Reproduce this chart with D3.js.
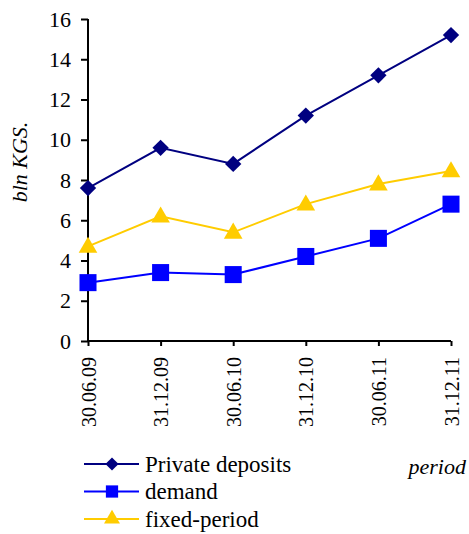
<!DOCTYPE html>
<html>
<head>
<meta charset="utf-8">
<script src="https://cdn.jsdelivr.net/npm/d3@7"></script>
</head>
<body style="margin:0;background:#fff">
<div id="chart"></div>
<script>
// data
var periods = ["30.06.09", "31.12.09", "30.06.10", "31.12.10", "30.06.11", "31.12.11"];
var privateDeposits = [7.6, 9.6, 8.8, 11.2, 13.2, 15.2];
var demand = [2.9, 3.4, 3.3, 4.2, 5.1, 6.8];
var fixedPeriod = [4.7, 6.2, 5.4, 6.8, 7.8, 8.45];
var yTicks = [0, 2, 4, 6, 8, 10, 12, 14, 16];

var series = [
  { name: "Private deposits", values: privateDeposits, color: "#000080", symbol: "diamond" },
  { name: "demand", values: demand, color: "#0000FF", symbol: "square" },
  { name: "fixed-period", values: fixedPeriod, color: "#FFCC00", symbol: "triangle" }
];

var serif = "'Liberation Serif'";
var W = 469, H = 534;
var svg = d3.select("#chart").append("svg")
  .attr("width", W).attr("height", H);

var x = d3.scalePoint().domain(periods).range([88, 451]);
var y = d3.scaleLinear().domain([0, 16]).range([341, 19]);

// Y axis
var yAxis = svg.append("g")
  .attr("transform", "translate(88,0)")
  .call(d3.axisLeft(y).tickValues(yTicks).tickSize(7).tickPadding(10).tickFormat(d3.format("d")));
yAxis.select(".domain").attr("stroke", "#000").attr("stroke-width", 2).attr("d", "M0,19V341");
yAxis.selectAll(".tick line").attr("stroke-width", 2);
yAxis.selectAll("text")
  .style("font-family", serif)
  .style("font-size", "22px")
  .attr("fill", "#000");

// X axis
var xAxis = svg.append("g")
  .attr("transform", "translate(0,341)")
  .call(d3.axisBottom(x).tickSize(5).tickPadding(8));
xAxis.select(".domain").attr("stroke", "#000").attr("stroke-width", 2).attr("d", "M88,0H451");
xAxis.selectAll(".tick line").attr("stroke-width", 2);
xAxis.selectAll("text")
  .style("font-family", serif)
  .style("font-size", "20px")
  .attr("fill", "#000")
  .attr("transform", "rotate(-90)")
  .attr("text-anchor", "end")
  .attr("x", -16)
  .attr("y", 0)
  .attr("dy", "0.35em");

// Axis titles
svg.append("text")
  .attr("transform", "translate(27,162) rotate(-90)")
  .attr("text-anchor", "middle")
  .style("font-family", serif)
  .style("font-size", "22px")
  .style("font-style", "italic")
  .text("bln KGS.");

svg.append("text")
  .attr("x", 466).attr("y", 474)
  .attr("text-anchor", "end")
  .style("font-family", serif)
  .style("font-size", "22px")
  .style("font-style", "italic")
  .text("period");

function marker(type, big) {
  if (type === "diamond") return d3.symbol().type(d3.symbolDiamond2).size(big ? 170 : 110)();
  if (type === "square") return d3.symbol().type(d3.symbolSquare).size(big ? 290 : 150)();
  return d3.symbol().type(d3.symbolTriangle).size(big ? 150 : 110)();
}

var line = d3.line()
  .x(function (d, i) { return x(periods[i]); })
  .y(function (d) { return y(d); });

// Lines and markers
series.forEach(function (s) {
  svg.append("path")
    .datum(s.values)
    .attr("d", line)
    .attr("fill", "none")
    .attr("stroke", s.color)
    .attr("stroke-width", 2);

  svg.selectAll(null)
    .data(s.values)
    .enter()
    .append("path")
    .attr("d", marker(s.symbol, true))
    .attr("transform", function (d, i) {
      return "translate(" + x(periods[i]) + "," + (y(d) + (s.symbol === "triangle" ? 1 : 0)) + ")";
    })
    .attr("fill", s.color);
});

// Legend
var legend = svg.append("g");
series.forEach(function (s, i) {
  var ly = 464 + i * 27.5;
  legend.append("line")
    .attr("x1", 84).attr("x2", 139)
    .attr("y1", ly).attr("y2", ly)
    .attr("stroke", s.color).attr("stroke-width", 2);
  legend.append("path")
    .attr("d", marker(s.symbol, false))
    .attr("transform", "translate(112," + ly + ")")
    .attr("fill", s.color);
  legend.append("text")
    .attr("x", 145).attr("y", ly)
    .attr("dy", "0.33em")
    .style("font-family", serif)
    .style("font-size", "23px")
    .text(s.name);
});
</script>
</body>
</html>
